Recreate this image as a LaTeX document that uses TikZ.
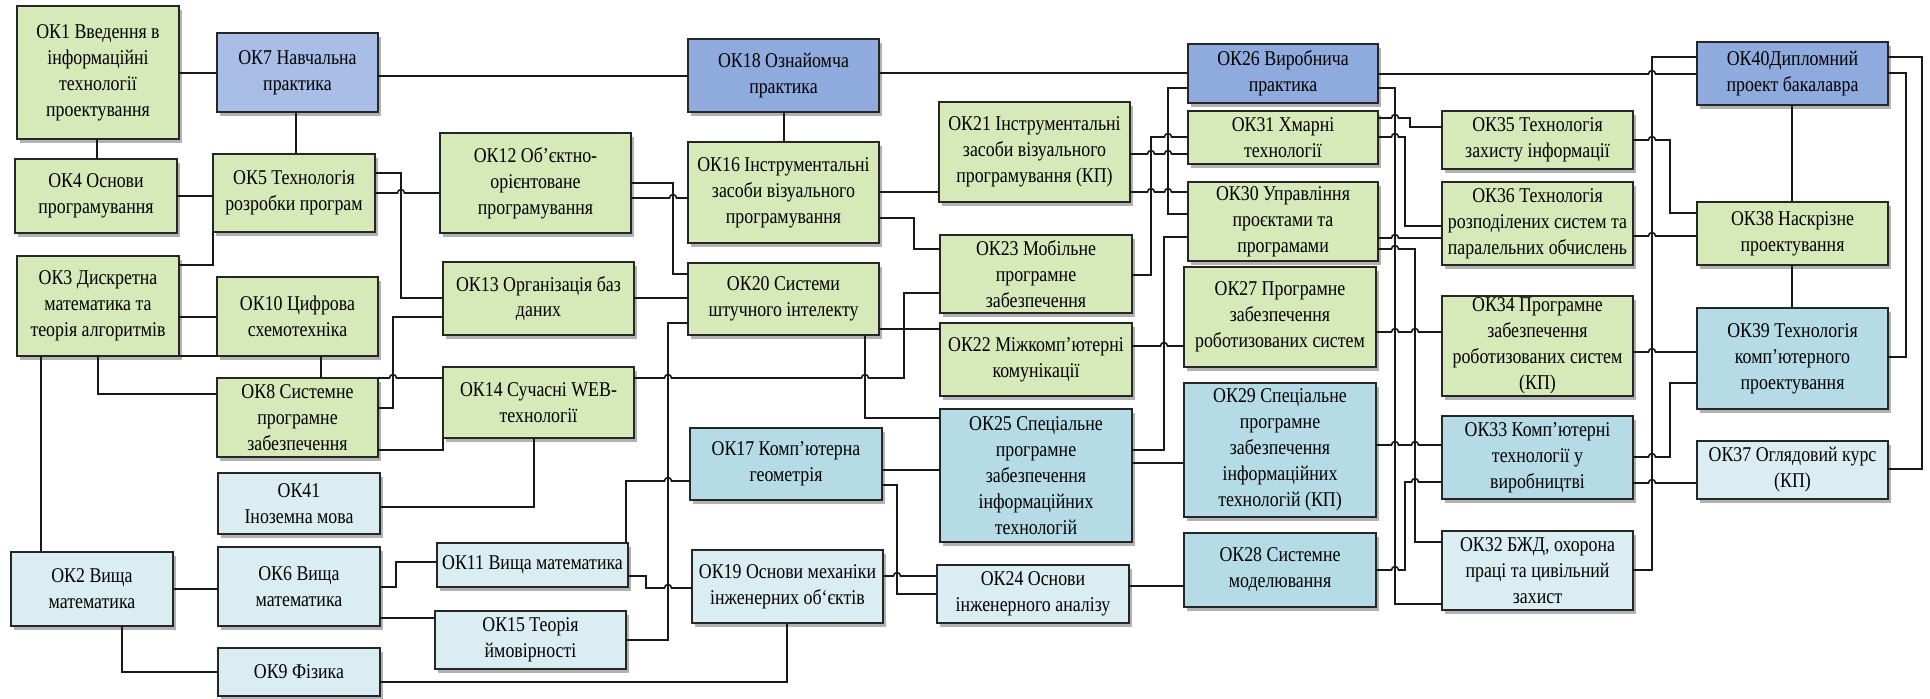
\documentclass[tikz,border=0pt]{standalone}
\usepackage{fontspec}
\setmainfont{Liberation Serif}[FakeStretch=0.85]
\usetikzlibrary{shadows}
\definecolor{gr}{HTML}{D6E9B8}
\definecolor{bl}{HTML}{8FAADC}
\definecolor{bll}{HTML}{A8BEE6}
\definecolor{cm}{HTML}{B5DCE6}
\definecolor{cl}{HTML}{DAEDF3}
\newcommand\bx[7]{\node[box,#6,minimum width={(#4-#2)*0.5pt},minimum height={(#5-#3)*0.5pt}] (#1) at ({(#2+#4)/2},{(#3+#5)/2}) {#7};}
\newcommand\hr[2]{-- ({#1-3.5},#2) arc[start angle=180,end angle=0,radius=1.75pt]}
\begin{document}
\begin{tikzpicture}[x=0.5pt,y=-0.5pt,
  box/.style={draw=black!85,line width=1pt,inner sep=0pt,outer sep=0pt,align=center,
    font=\fontsize{10.5}{13}\selectfont,
    drop shadow={shadow xshift=1.5pt,shadow yshift=-1.8pt,fill=black,opacity=0.3}},
  g/.style={fill=gr}, b/.style={fill=bl}, bb/.style={fill=bll},
  m/.style={fill=cm}, l/.style={fill=cl},
  cn/.style={line width=0.8pt,draw=black!90}]
\useasboundingbox (0,0) rectangle (1930,698);
\bx{OK1}{17}{6}{179}{139}{g}{ОК1 Введення в\\інформаційні\\технології\\проектування}
\bx{OK7}{217}{33}{378}{112}{bb}{ОК7 Навчальна\\практика}
\bx{OK4}{15}{159}{177}{233}{g}{ОК4 Основи\\програмування}
\bx{OK5}{213}{154}{375}{232}{g}{ОК5 Технологія\\розробки програм}
\bx{OK3}{17}{256}{179}{356}{g}{ОК3 Дискретна\\математика та\\теорія алгоритмів}
\bx{OK10}{217}{277}{378}{356}{g}{ОК10 Цифрова\\схемотехніка}
\bx{OK12}{440}{133}{631}{233}{g}{ОК12 Об'єктно-\\орієнтоване\\програмування}
\bx{OK13}{443}{262}{634}{335}{g}{ОК13 Організація баз\\даних}
\bx{OK8}{217}{378}{378}{457}{g}{ОК8 Системне\\програмне\\забезпечення}
\bx{OK14}{443}{367}{634}{438}{g}{ОК14 Сучасні WEB-\\технології}
\bx{OK41}{218}{473}{380}{534}{l}{ОК41\\Іноземна мова}
\bx{OK2}{11}{552}{173}{626}{l}{ОК2 Вища\\математика}
\bx{OK6}{218}{547}{380}{626}{l}{ОК6 Вища\\математика}
\bx{OK9}{218}{648}{380}{696}{l}{ОК9 Фізика}
\bx{OK11}{437}{543}{628}{587}{l}{ОК11 Вища математика}
\bx{OK15}{435}{611}{626}{669}{l}{ОК15 Теорія\\ймовірності}
\bx{OK18}{688}{39}{879}{112}{b}{ОК18 Ознайомча\\практика}
\bx{OK16}{688}{142}{879}{243}{g}{ОК16 Інструментальні\\засоби візуального\\програмування}
\bx{OK20}{688}{263}{879}{335}{g}{ОК20 Системи\\штучного інтелекту}
\bx{OK17}{690}{428}{882}{500}{m}{ОК17 Комп’ютерна\\геометрія}
\bx{OK19}{692}{550}{883}{623}{l}{ОК19 Основи механіки\\інженерних об`єктів}
\bx{OK21}{939}{102}{1130}{202}{g}{ОК21 Інструментальні\\засоби візуального\\програмування (КП)}
\bx{OK23}{940}{235}{1132}{313}{g}{ОК23 Мобільне\\програмне\\забезпечення}
\bx{OK22}{940}{323}{1132}{396}{g}{ОК22 Міжкомп’ютерні\\комунікації}
\bx{OK25}{940}{409}{1132}{542}{m}{ОК25 Спеціальне\\програмне\\забезпечення\\інформаційних\\технологій}
\bx{OK24}{937}{565}{1129}{623}{l}{ОК24 Основи\\інженерного аналізу}
\bx{OK26}{1188}{44}{1378}{103}{b}{ОК26 Виробнича\\практика}
\bx{OK31}{1188}{111}{1378}{164}{g}{ОК31 Хмарні\\технології}
\bx{OK30}{1188}{182}{1378}{261}{g}{ОК30 Управління\\проєктами та\\програмами}
\bx{OK27}{1184}{267}{1376}{367}{g}{ОК27 Програмне\\забезпечення\\роботизованих систем}
\bx{OK29}{1184}{383}{1376}{517}{m}{ОК29 Спеціальне\\програмне\\забезпечення\\інформаційних\\технологій (КП)}
\bx{OK28}{1184}{533}{1376}{607}{m}{ОК28 Системне\\моделювання}
\bx{OK35}{1442}{111}{1633}{169}{g}{ОК35 Технологія\\захисту інформації}
\bx{OK36}{1442}{182}{1633}{265}{g}{ОК36 Технологія\\розподілених систем та\\паралельних обчислень}
\bx{OK34}{1442}{296}{1633}{396}{g}{ОК34 Програмне\\забезпечення\\роботизованих систем\\(КП)}
\bx{OK33}{1442}{416}{1633}{499}{m}{ОК33 Комп'ютерні\\технології у\\виробництві}
\bx{OK32}{1442}{531}{1633}{610}{l}{ОК32 БЖД, охорона\\праці та цивільний\\захист}
\bx{OK40}{1697}{42}{1888}{105}{b}{ОК40Дипломний\\проект бакалавра}
\bx{OK38}{1697}{202}{1888}{265}{g}{ОК38 Наскрізне\\проектування}
\bx{OK39}{1697}{308}{1888}{409}{m}{ОК39 Технологія\\комп'ютерного\\проектування}
\bx{OK37}{1697}{441}{1888}{499}{l}{ОК37 Оглядовий курс\\(КП)}
% connectors
\draw[cn] (OK1.east |- 0,73) -- (OK7.west |- 0,73);
\draw[cn] (OK7.east |- 0,76) -- (OK18.west |- 0,76);
\draw[cn] (OK7.south -| 296,0) -- (OK5.north -| 296,0);
\draw[cn] (OK1.south -| 97,0) -- (OK4.north -| 97,0);
\draw[cn] (OK4.east |- 0,196) -- (OK5.west |- 0,196);
\draw[cn] (OK3.east |- 0,265) -| (OK5.south west);
\draw[cn] (OK5.east |- 0,173) -| (401,298) -- (OK13.west |- 0,298);
\draw[cn] (OK5.east |- 0,193) \hr{401}{193} -- (OK12.west |- 0,193);
\draw[cn] (OK3.east |- 0,317) -- (OK10.west |- 0,317);
\draw[cn] (OK3.south east) -- (OK10.south west);
\draw[cn] (OK8.east |- 0,408) -| (393,317) -- (OK13.west |- 0,317);
\draw[cn] (OK10.south -| 321,0) -- (OK8.north -| 321,0);
\draw[cn] (OK8.north east) \hr{393}{378} -- (OK14.west |- 0,378);
\draw[cn] (OK3.south -| 41,0) -- (OK2.north -| 41,0);
\draw[cn] (OK3.south -| 98,0) |- (OK8.west |- 0,394);
\draw[cn] (OK8.east |- 0,450) -| (OK14.south west);
\draw[cn] (OK41.east |- 0,507) -| (OK14.south -| 534,0);
\draw[cn] (OK2.east |- 0,589) -- (OK6.west |- 0,589);
\draw[cn] (OK2.south -| 122,0) |- (OK9.west |- 0,672);
\draw[cn] (OK6.east |- 0,587) -- (396,587) |- (OK11.west |- 0,562);
\draw[cn] (OK6.east |- 0,618) -- (OK15.west |- 0,618);
\draw[cn] (OK9.east |- 0,682) -| (OK19.south -| 787,0);
\draw[cn] (OK11.north -| 626,0) -- (626,481) \hr{668}{481} -- (OK17.west |- 0,481);
\draw[cn] (OK11.east |- 0,576) -- (646,576) -- (646,588) \hr{668}{588} -- (OK19.west |- 0,588);
\draw[cn] (OK15.east |- 0,640) -- (668,640) |- (OK20.west |- 0,323);
\draw[cn] (OK12.east |- 0,183) -- (673,183) |- (OK20.west |- 0,274);
\draw[cn] (OK12.east |- 0,198) \hr{673}{198} -- (OK16.west |- 0,198);
\draw[cn] (OK13.east |- 0,298) -- (OK20.west |- 0,298);
\draw[cn] (OK18.south -| 784,0) -- (OK16.north -| 784,0);
\draw[cn] (OK18.east |- 0,73) -- (OK26.west |- 0,73);
\draw[cn] (OK16.east |- 0,192) -- (OK21.west |- 0,192);
\draw[cn] (OK16.east |- 0,218) -- (914,218) |- (OK23.west |- 0,249);
\draw[cn] (OK14.east |- 0,378) \hr{668}{378} \hr{865}{378} -- (904,378) |- (OK23.west |- 0,293);
\draw[cn] (OK20.east |- 0,329) -- (OK22.west |- 0,329);
\draw[cn] (OK20.south -| 865,0) |- (OK25.west |- 0,418);
\draw[cn] (OK17.east |- 0,470) -- (OK25.west |- 0,470);
\draw[cn] (OK17.east |- 0,485) -- (897,485) |- (OK24.west |- 0,594);
\draw[cn] (OK19.east |- 0,576) \hr{897}{576} -- (OK24.west |- 0,576);
\draw[cn] (OK21.east |- 0,154) \hr{1151}{154} \hr{1168}{154} -- (OK31.west |- 0,154);
\draw[cn] (OK21.east |- 0,192) \hr{1151}{192} \hr{1168}{192} -- (OK30.west |- 0,192);
\draw[cn] (OK23.east |- 0,275) -- (1151,275) -- (1151,137) \hr{1168}{137} -- (OK31.west |- 0,137);
\draw[cn] (OK26.west |- 0,88) -- (1168,88) |- (OK30.west |- 0,214);
\draw[cn] (OK25.east |- 0,450) -- (1164,450) |- (OK30.west |- 0,237);
\draw[cn] (OK22.east |- 0,346) \hr{1164}{346} -- (OK27.west |- 0,346);
\draw[cn] (OK25.east |- 0,463) -- (OK29.west |- 0,463);
\draw[cn] (OK24.east |- 0,586) -- (OK28.west |- 0,586);
\draw[cn] (OK26.east |- 0,74) \hr{1652}{74} -- (OK40.west |- 0,74);
\draw[cn] (OK26.east |- 0,88) -- (1395,88) |- (OK32.west |- 0,604);
\draw[cn] (OK31.east |- 0,118) \hr{1395}{118} -- (1410,118) |- (OK35.west |- 0,127);
\draw[cn] (OK31.east |- 0,137) \hr{1395}{137} -- (1405,137) |- (OK36.west |- 0,226);
\draw[cn] (OK30.east |- 0,238) \hr{1395}{238} -- (OK36.west |- 0,238);
\draw[cn] (OK30.east |- 0,249) \hr{1395}{249} -- (1415,249) |- (OK32.west |- 0,542);
\draw[cn] (OK27.east |- 0,332) \hr{1395}{332} \hr{1415}{332} -- (OK34.west |- 0,332);
\draw[cn] (OK29.east |- 0,445) \hr{1395}{445} \hr{1415}{445} -- (OK33.west |- 0,445);
\draw[cn] (OK28.east |- 0,570) \hr{1395}{570} -- (1405,570) -- (1405,482) \hr{1415}{482} -- (OK33.west |- 0,482);
\draw[cn] (OK32.east |- 0,570) -- (1652,570) |- (OK40.west |- 0,57);
\draw[cn] (OK35.east |- 0,140) \hr{1652}{140} -- (1670,140) |- (OK38.west |- 0,213);
\draw[cn] (OK36.east |- 0,236) \hr{1652}{236} -- (OK38.west |- 0,236);
\draw[cn] (OK34.east |- 0,352) \hr{1652}{352} -- (OK39.west |- 0,352);
\draw[cn] (OK33.east |- 0,457) \hr{1652}{457} -- (1670,457) |- (OK39.west |- 0,383);
\draw[cn] (OK33.east |- 0,483) \hr{1652}{483} -- (OK37.west |- 0,483);
\draw[cn] (OK40.south -| 1792,0) -- (OK38.north -| 1792,0);
\draw[cn] (OK38.south -| 1792,0) -- (OK39.north -| 1792,0);
\draw[cn] (OK40.east |- 0,57) -- (1922,57) |- (OK37.east |- 0,469);
\draw[cn] (OK40.east |- 0,73) -- (1906,73) |- (OK39.east |- 0,357);
\end{tikzpicture}
\end{document}
